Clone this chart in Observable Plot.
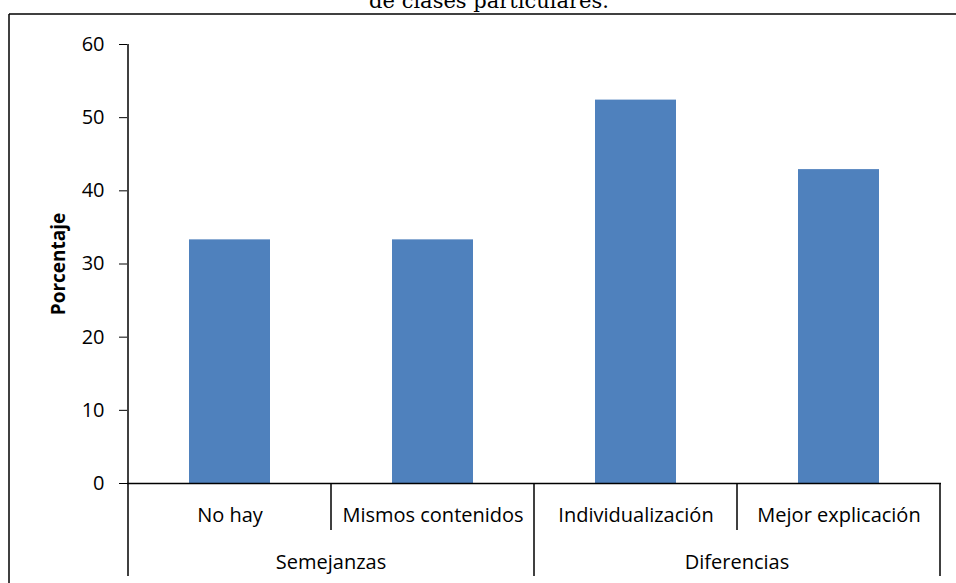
<!DOCTYPE html>
<html>
<head>
<meta charset="utf-8">
<script src="https://cdn.jsdelivr.net/npm/d3@7"></script>
<script src="https://cdn.jsdelivr.net/npm/@observablehq/plot@0.6"></script>
<style>
  html, body { margin: 0; padding: 0; overflow: hidden; background: #fff; }
  #chart svg { display: block; }
</style>
</head>
<body>
<div id="chart"></div>
<script>
const categories = ["No hay", "Mismos contenidos", "Individualización", "Mejor explicación"];
const groups = ["Semejanzas", "Semejanzas", "Diferencias", "Diferencias"];
const values = [33.3, 33.3, 52.4, 42.9];
const yTicks = [0, 10, 20, 30, 40, 50, 60];
const yLabel = "Porcentaje";
const titleText = "de clases particulares.";

const data = categories.map((c, i) => ({category: c, group: groups[i], value: values[i]}));
const groupNames = Array.from(new Set(groups));

function decorations(index, scales, channels, dimensions) {
  const {x, y} = scales;
  const step = x.step();
  const bw = x.bandwidth();
  const leftOf = c => x(c) - (step - bw) / 2;
  const center = c => x(c) + bw / 2;
  const y0 = y(0);
  const g = d3.create("svg:g");
  const line = (x1, y1, x2, y2) => g.append("line")
    .attr("x1", x1).attr("y1", y1).attr("x2", x2).attr("y2", y2)
    .attr("stroke", "#000").attr("stroke-width", 1.5);

  // outer chart frame (left and top edges visible)
  line(9, 14, 9, dimensions.height + 10);
  line(9, 14, dimensions.width + 10, 14);

  // title (second line, partially cut at the top)
  g.append("text")
    .attr("x", 489).attr("y", 7.5)
    .attr("text-anchor", "middle")
    .attr("font-family", "DejaVu Serif")
    .attr("font-size", 21)
    .attr("fill", "#000")
    .text(titleText);

  // y axis line
  const xl = leftOf(categories[0]);
  line(xl, y(d3.max(yTicks)), xl, y0);

  // hierarchical category axis
  categories.forEach((c, i) => {
    const isGroupStart = i === 0 || groups[i] !== groups[i - 1];
    line(leftOf(c), y0, leftOf(c), y0 + (isGroupStart ? 93 : 47));
  });
  const last = categories[categories.length - 1];
  line(leftOf(last) + step, y0, leftOf(last) + step, y0 + 93);

  groupNames.forEach(gname => {
    const cats = categories.filter((c, i) => groups[i] === gname);
    const cx = d3.mean(cats, center);
    g.append("text")
      .attr("x", cx).attr("y", y0 + 86)
      .attr("text-anchor", "middle")
      .attr("font-family", "Open Sans")
      .attr("font-size", 20)
      .attr("fill", "#000")
      .text(gname);
  });
  return g.node();
}

const chart = Plot.plot({
  width: 956,
  height: 583,
  marginTop: 44,
  marginBottom: 100,
  marginLeft: 127,
  marginRight: 15,
  style: {fontFamily: "Open Sans", fontSize: "20px", color: "#000", background: "#fff"},
  x: {domain: categories, paddingInner: 0.6, paddingOuter: 0.3, tickSize: 0, tickPadding: 24.5, label: null},
  y: {domain: [0, 60], ticks: yTicks, tickSize: 8, tickPadding: 15, label: null},
  marks: [
    Plot.barY(data, {x: "category", y: "value", fill: "#4F81BD"}),
    Plot.ruleY([0], {stroke: "#000", strokeWidth: 1.5}),
    Plot.text([yLabel], {frameAnchor: "left", dx: -69, rotate: -90, text: d => d, fontWeight: "bold", fontSize: 19, textAnchor: "middle", lineAnchor: "middle", fill: "#000"}),
    decorations
  ]
});
document.getElementById("chart").appendChild(chart);
</script>
</body>
</html>
